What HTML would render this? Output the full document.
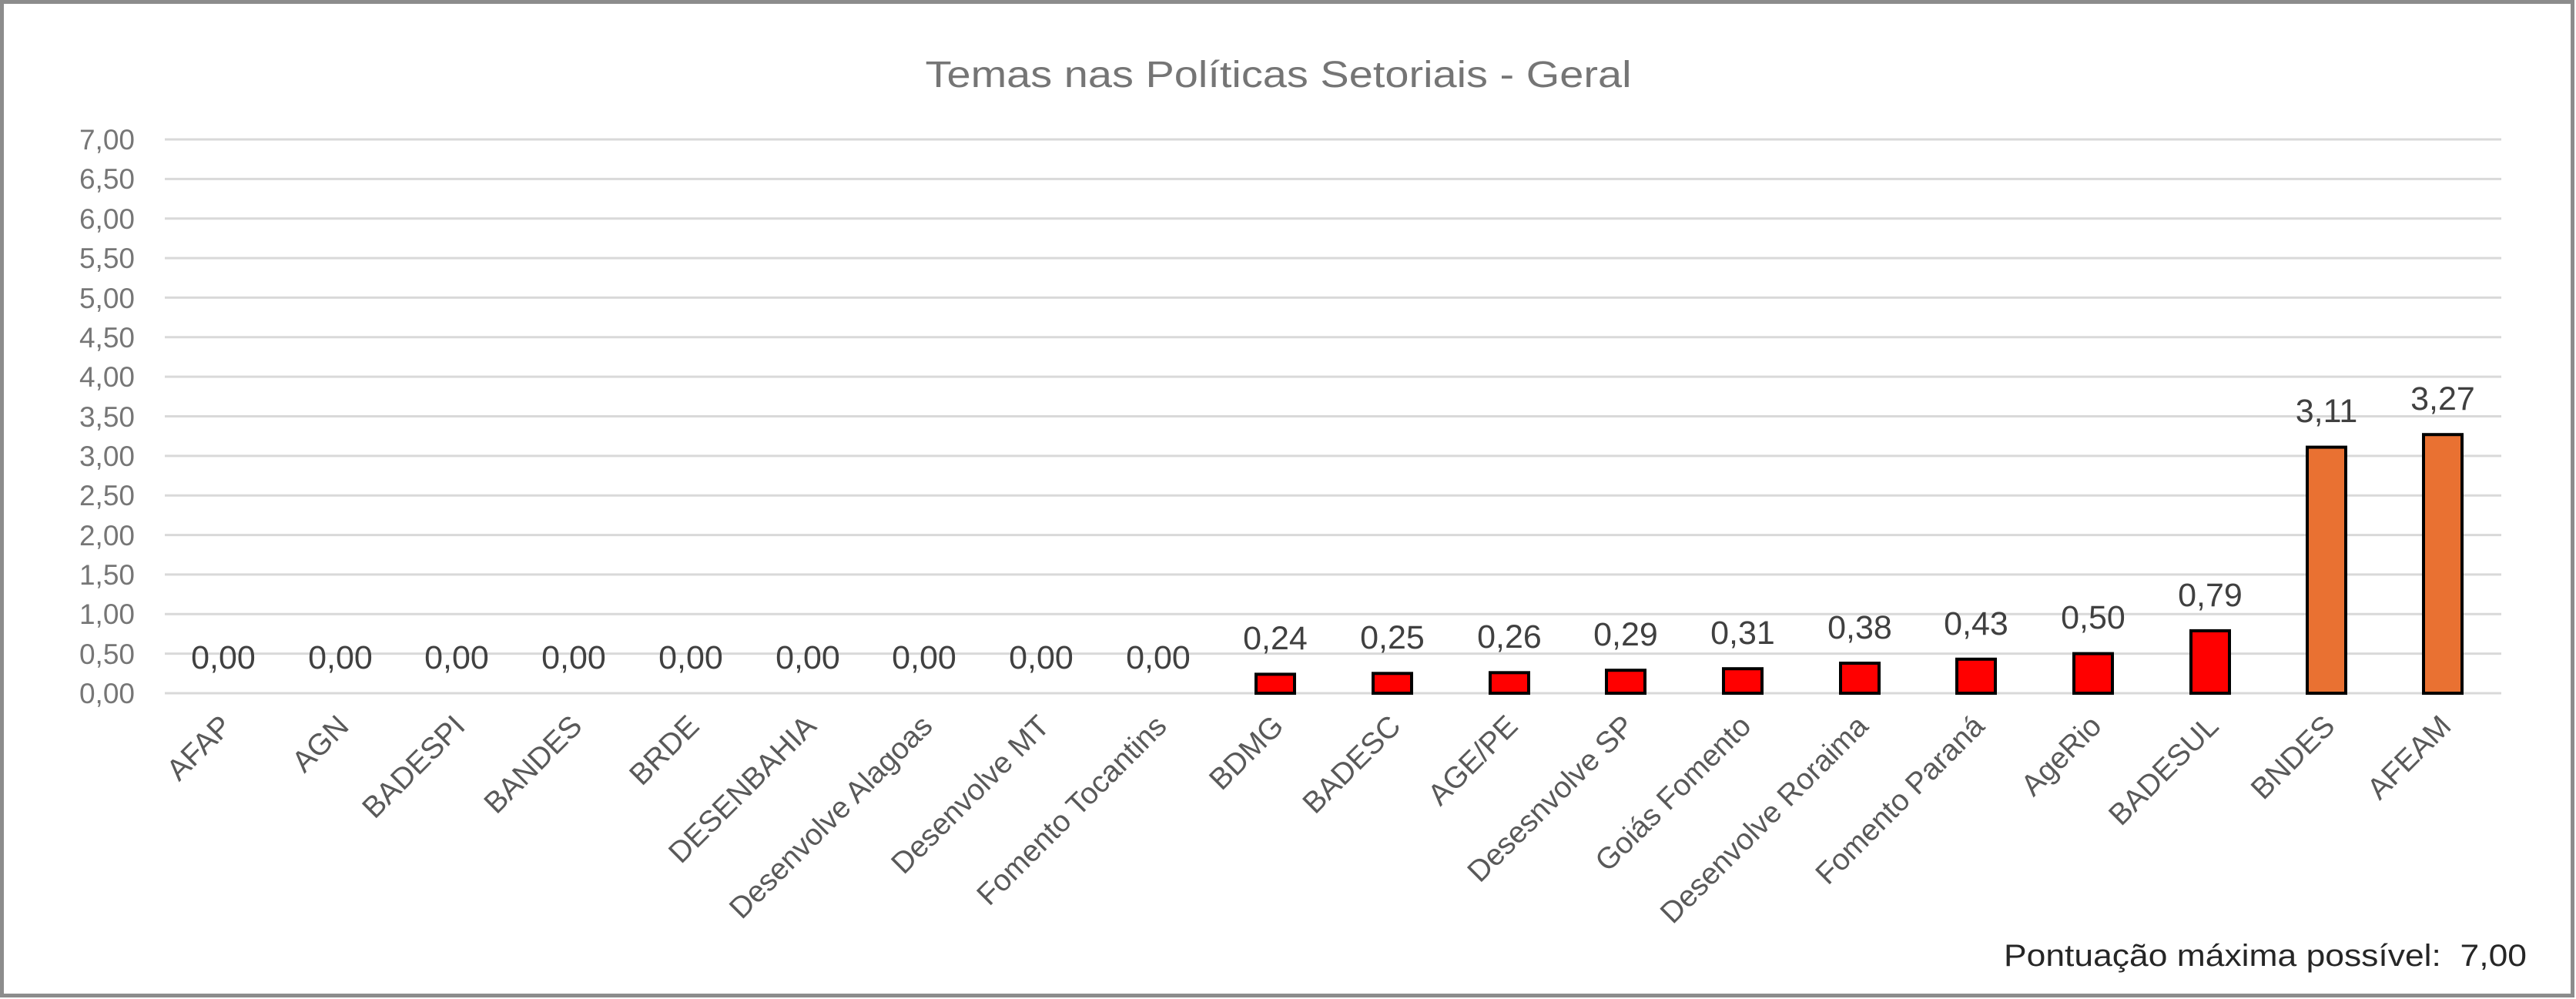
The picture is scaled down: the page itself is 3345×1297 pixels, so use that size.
<!DOCTYPE html>
<html><head><meta charset="utf-8"><style>
html,body{margin:0;padding:0;background:#fff}
svg{display:block}
text{font-family:"Liberation Sans",sans-serif}
</style></head><body>
<svg width="3345" height="1297" viewBox="0 0 3345 1297" xmlns="http://www.w3.org/2000/svg">
<rect x="2.5" y="2.5" width="3338" height="1290" fill="#fff" stroke="#8c8c8c" stroke-width="5"/>
<text x="1660" y="113" font-size="48" fill="#757575" text-anchor="middle" textLength="917" lengthAdjust="spacingAndGlyphs">Temas nas Políticas Setoriais - Geral</text>
<g stroke="#d9d9d9" stroke-width="3">
<line x1="214" x2="3248" y1="181" y2="181"/><line x1="214" x2="3248" y1="232.4" y2="232.4"/>
<line x1="214" x2="3248" y1="283.7" y2="283.7"/><line x1="214" x2="3248" y1="335.1" y2="335.1"/>
<line x1="214" x2="3248" y1="386.4" y2="386.4"/><line x1="214" x2="3248" y1="437.8" y2="437.8"/>
<line x1="214" x2="3248" y1="489.1" y2="489.1"/><line x1="214" x2="3248" y1="540.5" y2="540.5"/>
<line x1="214" x2="3248" y1="591.9" y2="591.9"/><line x1="214" x2="3248" y1="643.2" y2="643.2"/>
<line x1="214" x2="3248" y1="694.6" y2="694.6"/><line x1="214" x2="3248" y1="745.9" y2="745.9"/>
<line x1="214" x2="3248" y1="797.3" y2="797.3"/><line x1="214" x2="3248" y1="848.6" y2="848.6"/>
<line x1="214" x2="3248" y1="900" y2="900"/>
</g>
<g font-size="37" fill="#767676" text-anchor="end">
<text x="175" y="194">7,00</text><text x="175" y="245">6,50</text><text x="175" y="297">6,00</text>
<text x="175" y="348">5,50</text><text x="175" y="400">5,00</text><text x="175" y="451">4,50</text>
<text x="175" y="502">4,00</text><text x="175" y="554">3,50</text><text x="175" y="605">3,00</text>
<text x="175" y="656">2,50</text><text x="175" y="708">2,00</text><text x="175" y="759">1,50</text>
<text x="175" y="810">1,00</text><text x="175" y="862">0,50</text><text x="175" y="913">0,00</text>
</g>
<g stroke="#000" stroke-width="4">
<rect x="1631" y="875.4" width="50" height="24.6" fill="#ff0000"/>
<rect x="1783" y="874.3" width="50" height="25.7" fill="#ff0000"/>
<rect x="1935" y="873.3" width="50" height="26.7" fill="#ff0000"/>
<rect x="2086" y="870.2" width="50" height="29.8" fill="#ff0000"/>
<rect x="2238" y="868.2" width="50" height="31.8" fill="#ff0000"/>
<rect x="2390" y="861" width="50" height="39" fill="#ff0000"/>
<rect x="2541" y="855.8" width="50" height="44.2" fill="#ff0000"/>
<rect x="2693" y="848.6" width="50" height="51.4" fill="#ff0000"/>
<rect x="2845" y="818.9" width="50" height="81.1" fill="#ff0000"/>
<rect x="2996" y="580.6" width="50" height="319.4" fill="#e97132"/>
<rect x="3147" y="564.2" width="50" height="335.8" fill="#e97132"/>
</g>
<g font-size="43" fill="#404040" text-anchor="middle">
<text x="290" y="868">0,00</text><text x="442" y="868">0,00</text><text x="593" y="868">0,00</text>
<text x="745" y="868">0,00</text><text x="897" y="868">0,00</text><text x="1049" y="868">0,00</text>
<text x="1200" y="868">0,00</text><text x="1352" y="868">0,00</text><text x="1504" y="868">0,00</text>
<text x="1656" y="843">0,24</text><text x="1808" y="842">0,25</text><text x="1960" y="841">0,26</text>
<text x="2111" y="838">0,29</text><text x="2263" y="836">0,31</text><text x="2415" y="829">0,38</text>
<text x="2566" y="824">0,43</text><text x="2718" y="816">0,50</text><text x="2870" y="787">0,79</text>
<text x="3021" y="548">3,11</text><text x="3172" y="532">3,27</text>
</g>
<g font-size="39" fill="#595959" text-anchor="end">
<text transform="translate(303,945) rotate(-45)">AFAP</text>
<text transform="translate(455,945) rotate(-45)">AGN</text>
<text transform="translate(606,945) rotate(-45)">BADESPI</text>
<text transform="translate(758,945) rotate(-45)">BANDES</text>
<text transform="translate(910,945) rotate(-45)">BRDE</text>
<text transform="translate(1062,945) rotate(-45)">DESENBAHIA</text>
<text transform="translate(1213,945) rotate(-45)">Desenvolve Alagoas</text>
<text transform="translate(1365,945) rotate(-45)">Desenvolve MT</text>
<text transform="translate(1517,945) rotate(-45)">Fomento Tocantins</text>
<text transform="translate(1669,945) rotate(-45)">BDMG</text>
<text transform="translate(1821,945) rotate(-45)">BADESC</text>
<text transform="translate(1973,945) rotate(-45)">AGE/PE</text>
<text transform="translate(2124,945) rotate(-45)">Desesnvolve SP</text>
<text transform="translate(2276,945) rotate(-45)">Goiás Fomento</text>
<text transform="translate(2428,945) rotate(-45)">Desenvolve Roraima</text>
<text transform="translate(2579,945) rotate(-45)">Fomento Paraná</text>
<text transform="translate(2731,945) rotate(-45)">AgeRio</text>
<text transform="translate(2883,945) rotate(-45)">BADESUL</text>
<text transform="translate(3034,945) rotate(-45)">BNDES</text>
<text transform="translate(3185,945) rotate(-45)">AFEAM</text>
</g>
<text x="3281" y="1254" font-size="40" fill="#262626" text-anchor="end" textLength="679" lengthAdjust="spacingAndGlyphs" xml:space="preserve">Pontuação máxima possível:  7,00</text>
</svg>
</body></html>
